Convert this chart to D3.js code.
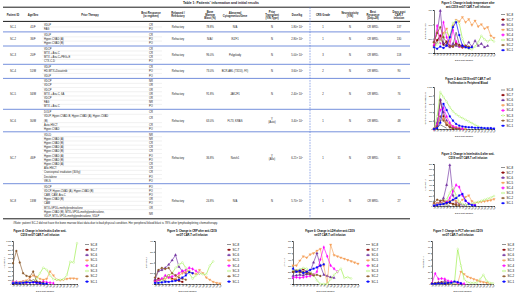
<!DOCTYPE html>
<html>
<head>
<meta charset="utf-8">
<script src="https://cdn.jsdelivr.net/npm/d3@7"></script>
<style>
  body { margin: 0; background: #fff; }
  svg { display: block; font-family: Arial, "Liberation Sans", sans-serif; }
</style>
</head>
<body>
<svg id="vis" width="520" height="295"></svg>
<script>
// ---------- table data ----------
var patients = ["SC-1","SC-2","SC-3","SC-4","SC-5","SC-6","SC-7","SC-8"];
var ageSex = ["41/F","36/F","20/F","51/M","34/M","30/M","46/F","13/M"];
var relapsed = ["Refractory","Refractory","Refractory","Refractory","Refractory","Refractory","Refractory","Refractory"];
var blast = ["78.8%","N/A#","96.0%","73.0%","91.8%","63.0%","36.8%","24.8%"];
var cyto = ["N/A","IKZF1","Polyploidy","BCR-ABL (T315I), F/I)","JAK2F1","FLT3, KRAS","Notch1","N/A"];
var transplant = ["N","N","N","N","N","Y\n(Auto)","Y\n(Allo)","N"];
var dose = ["1.80","2.80","5.00","3.60","2.40","3.40","6.21","5.70"];
var crs = ["1","1","3","2","2","1","1","1"];
var neuro = ["N","N","N","N","N","N","N","N"];
var best28 = ["CR MRD-","CR MRD-","CR MRD-","CR MRD-","CR MRD-","CR MRD-","CR MRD-","CR MRD-"];
var daysPost = ["137","130","118","90","76","48","31","27"];
var therapy = [
  [["VDLP","CR"],["FAG","PO"]],
  [["VDLP","CR"],["Hyper-CVAD (A)","PO"],["Hyper-CVAD (B)","PO"]],
  [["VDCP","CR"],["MTX + Ara-C","CR"],["MTX + Ara-C+PEG+E","CR"],["CTX-C-D","PO"]],
  [["VDLP","CR"],["HD-MTX+Dasatinib","PO"],["VDLP","PO"]],
  [["VDCP","NR"],["VDCP","OR"],["VDCP","OR"],["MTX + Ara-C, 6A","OR"],["VDCP","OR"],["FAG","NR"],["MTX + Ara-C","PO"]],
  [["DOLP","CR"],["VDLP, Hyper-CVAD-B, Hyper-CVAD (A), Hyper-CVAD\n(B)","CR"],["Auto-HSCT","CR"],["Hyper-CVAD","PO"]],
  [["VDLD","NR"],["Hyper-CVAD (A)","NR"],["Hyper-CVAD (B)","CR"],["Hyper-CVAD (A)","CR"],["Hyper-CVAD (B)","CR"],
   ["Hyper-CVAD (A)","PO"],["Hyper-CVAD (B)","PO"],["Hyper-CVAD (A)","CR"],["Allo-HSCT","CR"],
   ["Craniospinal irradiation (30Gy)","CR"],["Decitabine","PO"],["VELS","PO"]],
  [["VDCP","PO"],["VDCP, Hyper-CVAD (A), Hyper-CVAD (B)","PO"],["CAM, CAM,  Ara-C","PO"],["Hyper-CVAD (B)","OR"],
   ["CAM","PO"],["MTX+VP16+methylprednisolone","OR"],
   ["Hyper-CVAD (B), MTX+VP16+methylprednisolone,\nVDLP, MTX+VP16+methylprednisolone, VDLP","NR"]]
];
var headers = ["Patient ID","Age/Sex","Prior Therapy","Best Response\n(to regimen)","Relapsed /\nRefractory",
  "Bone\nMarrow\nBlast (%)","Abnormal\nCytogenetics/Gene","Prior\nTransplant\n(Y/N;Type)","Dose/kg","CRS Grade",
  "Neurotoxicity\n(Y/N)","Best\nResponse\n(Day+28)","Days post\nCAR-T\ninfusion"];

// ---------- chart data (series SC-1 .. SC-8) ----------
var days = ["D0","D1","D2","D3","D4","D5","D6","D7","D8","D9","D10","D11","D12","D13","D14","D15","D18","D21","D24","D28"];
var series = ["SC-1","SC-2","SC-3","SC-4","SC-5","SC-6","SC-7","SC-8"];
var colors = ["#0000ff","#8b5a2b","#99ee44","#ff00ff","#f5a05a","#7030a0","#8b0000","#555555"];

var tempData = [
  [36.8,36.6,36.9,36.7,37.0,38.2,39.6,40.3,38.5,37.0,36.8,36.7,36.8],
  [37.5,38.8,39.6,38.2,37.4,37.0,36.9,37.2,37.0,36.8,37.0,36.9],
  [36.8,37.2,37.6,38.5,39.0,38.2,40.2,40.5,40.1,38.0,36.8,36.6,36.5,36.9,37.5,38.4,37.9,37.6,37.9,37.6],
  [37.1,39.8,37.4,40.3,38.2,37.0,39.2,37.6,36.9,36.8,37.0],
  [37.4,39.0,37.8,38.8,39.4,37.6,39.8,40.6,40.4,41.0,40.3,40.7,39.9,40.5,39.7,40.0,39.4,39.6,38.4,38.1],
  [37.6,38.8,41.9,37.4,37.1,36.8,37.3,37.0,36.9,37.1,36.8,37.5,36.9,37.7,37.0,37.3,36.8,37.0],
  [37.0,37.8,38.4,37.2,37.6,37.0,36.9,37.4,37.1,36.8,37.0,36.8],
  [36.9,37.4,38.6,37.0,37.2,36.8,37.1,38.9,37.2,36.9]
];
var cartData = [
  [0,20,150,600,450,300,200,120,80,60,50,40,40,30,30,30,20,20,20,10],
  [0,60,300,200,100,50,20,10,5],
  [0,300,880,760,650,520,420,350,300,260,220,180,140,100,60,20,5],
  [0,100,450,500,300,150,60,30,10,5],
  [0,50,200,250,150,100,60,40,20,10,5],
  [0,150,700,400,200,100,50,20,10],
  [0,80,680,300,100,40,10],
  [0,30,100,60,20]
];
var il6aData = [
  [10,20,30,40,60,80,120,150,200,230,100,40,20,10],
  [60,120,100,110,50,80,30,20,10],
  [20,30,40,60,120,250,350,200,80,40,20,30,40,60,80,100,120,140,160,190],
  [20,30,40,60,80,150,280,400,360,200,100,50,30,20],
  [40,60,50,80,90,100,110,90,60,120,170,200,90,60,70,80,90,100,110,130],
  [30,50,80,150,400,780,200,80,40,30,20],
  [20,40,60,50,80,60,40,30],
  [10,20,30,20,20,10]
];
var il6bData = [
  [20,30,20,30,40,30,40,30,20,10,10],
  [480,770,500,250,190,170,290,60,40,30],
  [30,40,30,40,50,60,80,120,250,380,330,200,110,100,100,110,210,520,500,950],
  [40,50,30,40,30,50,40,30,20,60,40,30,20],
  [50,30,40,60,80,150,200,170,120,100,120,290,200,100,90,100,120,130,130,120],
  [30,20,30,50,40,60,80,40,30],
  [20,30,40,50,40,80,70,50,30],
  [10,20,30,20,10]
];
var crpData = [
  [10,10,15,20,20,25,30,40,60,80,110,100],
  [60,130,150,140,150,100,80,60,50,40],
  [10,20,30,60,80,100,150,180,200,150,100,50,80,100,90,90,170,210],
  [20,30,50,80,60,70,80,100,120,130,150,140,120,100],
  [20,30,40,50,60,40,50,80,100,110,120,100,90,130,100,60,40,20,10,5],
  [40,120,130,150,180,220,270,160,120,100],
  [30,50,40,60,80,50,40,30,20],
  [20,30,40,30,20]
];
var ldhData = [
  [250,200,220,180,200,230,250,270,300,320],
  [200,210,190,200,180,160,140,150,130],
  [230,220,240,260,250,200,150,60,0,0,0,80,150,200,250,100,110,90],
  [100,110,100,110,120,130,150,200,400,600,450,300,250,200],
  [300,300,380,450,430,480,500,540,570,300,0,640,470,450,430,410,390,370,350,330],
  [130,140,150,140,160,200,350,500,300,150,130,110,100],
  [200,220,210,240,200,180,150],
  [180,190,200,170,160,150]
];
var pctData = [
  [0.5,0.5,1,1,1,2,2,4,3,1],
  [1,1,2,2,1,1],
  [0.5,0.5,1,1,2,2,1,2,57,30,8,3,2,2,2,8,15,5,2,1],
  [1,17,8,9,8,5,4,3,2,1,0.5],
  [0.5,1,1,1.5,2,1.5,1,2,1,20,16,12,10,8,6,4,3,2,1],
  [0.5,1,2,1,5,2,1],
  [0.5,1,2,3,1],
  [0.3,0.5,1,0.5]
];

var svg = d3.select("#vis");

// ---------- table ----------
var tbl = svg.append("g").attr("font-size", "2.7px").attr("fill", "#222");
tbl.append("text").attr("x", 221).attr("y", 4.3).attr("text-anchor", "middle")
  .attr("font-size", "3.4px").attr("font-weight", "bold").text("Table 1: Patients' information and initial results");

var colX = [13, 33, 90, 151, 178, 210, 235, 272, 297, 323, 350, 373, 399];
var tx0 = 3, tx1 = 410, lh = 4.2, pad = 1.5, yTop = 22;

// multi-line centered text
function block(g, x, cy, str, anchor) {
  var lines = str.split("\n");
  lines.forEach(function(t, k) {
    g.append("text").attr("x", x).attr("y", cy + (k - (lines.length - 1) / 2) * 3 + 0.95)
      .attr("text-anchor", anchor || "middle").text(t);
  });
}

headers.forEach(function(h, i) {
  var hg = tbl.append("g").attr("font-weight", "bold");
  block(hg, colX[i], 14.8, h);
});
tbl.append("line").attr("x1", tx0).attr("x2", tx1).attr("y1", 7.2).attr("y2", 7.2).attr("stroke", "#000").attr("stroke-width", 0.9);
tbl.append("line").attr("x1", tx0).attr("x2", tx1).attr("y1", 21.4).attr("y2", 21.4).attr("stroke", "#000").attr("stroke-width", 0.9);

var rowY = yTop;
patients.forEach(function(p, i) {
  var items = therapy[i];
  var nLines = d3.sum(items, function(d) { return d[0].split("\n").length; });
  var h = nLines * lh + pad;
  var mid = rowY + h / 2;
  var cy = rowY + pad / 2;
  items.forEach(function(it, j) {
    var lines = it[0].split("\n");
    var ih = lines.length * lh;
    if (j > 0) {
      tbl.append("line").attr("x1", 42).attr("x2", 162).attr("y1", cy).attr("y2", cy)
        .attr("stroke", "#d0d0d0").attr("stroke-width", 0.3);
    }
    lines.forEach(function(t, k) {
      tbl.append("text").attr("x", 44).attr("y", cy + k * lh + lh / 2 + 0.95).text(t);
    });
    tbl.append("text").attr("x", colX[3]).attr("y", cy + ih / 2 + 0.95).attr("text-anchor", "middle").text(it[1]);
    cy += ih;
  });
  var cells = [p, ageSex[i], null, null, relapsed[i], blast[i], cyto[i], transplant[i], null, crs[i], neuro[i], best28[i], daysPost[i]];
  cells.forEach(function(c, k) { if (c !== null) block(tbl, colX[k], mid, c); });
  var dt = tbl.append("text").attr("x", colX[8]).attr("y", mid + 0.95).attr("text-anchor", "middle");
  dt.append("tspan").text(dose[i] + "× 10");
  dt.append("tspan").attr("dy", -0.9).attr("font-size", "1.8px").text("6");
  rowY += h;
  if (i < patients.length - 1) {
    tbl.append("line").attr("x1", tx0).attr("x2", tx1).attr("y1", rowY).attr("y2", rowY)
      .attr("stroke", "#7590dc").attr("stroke-width", 1.0);
  }
});
tbl.append("line").attr("x1", tx0).attr("x2", tx1).attr("y1", rowY).attr("y2", rowY).attr("stroke", "#000").attr("stroke-width", 0.9);
tbl.append("line").attr("x1", 310).attr("x2", 310).attr("y1", 7.2).attr("y2", rowY)
  .attr("stroke", "#4f72d8").attr("stroke-width", 0.6).attr("stroke-dasharray", "1.6,1.1");
tbl.append("text").attr("x", 13).attr("y", rowY + 5.3).attr("font-size", "2.85px")
  .text("#Note: patient SC-2 did not have the bone marrow blast data due to bad physical condition. Her peripheral blood blast is 78% after lymphodepleting chemotherapy.");

// ---------- charts ----------
var symbols = [d3.symbolSquare, d3.symbolCircle, d3.symbolCircle, d3.symbolDiamond, d3.symbolTriangle, d3.symbolTriangle, d3.symbolSquare, null];

function marker(g, s, x, y) {
  if (!symbols[s]) return;
  var rot = s === 4 ? " rotate(180)" : "";
  g.append("path").attr("d", d3.symbol().type(symbols[s]).size(2.6)())
    .attr("transform", "translate(" + x + "," + y + ")" + rot)
    .attr("fill", s === 2 ? "#fff" : colors[s]).attr("stroke", colors[s]).attr("stroke-width", 0.3);
}

function drawChart(c, data) {
  var g = svg.append("g");
  var x = d3.scalePoint().domain(days).range([c.x0, c.x1]);
  var y = d3.scaleLinear().domain(c.domain).range([c.y1, c.y0]);

  c.title.forEach(function(t, k) {
    g.append("text").attr("x", c.tx).attr("y", c.ty + k * 4).attr("text-anchor", "middle")
      .attr("font-size", "2.6px").attr("font-weight", "bold").text(t);
  });

  var ya = g.append("g").attr("transform", "translate(" + c.x0 + ",0)")
    .call(d3.axisLeft(y).tickValues(d3.range(c.domain[0], c.domain[1] + c.step / 2, c.step)).tickSize(1).tickPadding(0.6));
  ya.attr("font-size", "2.1px").attr("font-family", null);
  ya.selectAll("path, line").attr("stroke-width", 0.55);

  var xa = g.append("g").attr("transform", "translate(0," + c.y1 + ")")
    .call(d3.axisBottom(x).tickSize(1).tickPadding(0.5));
  xa.attr("font-size", "1.9px").attr("font-family", null);
  xa.selectAll("path, line").attr("stroke-width", 0.55);
  xa.selectAll("text").attr("text-anchor", "end").attr("dy", "0.3em")
    .attr("transform", "rotate(-60)").attr("y", 1.2).attr("x", -0.4);

  g.append("text").attr("transform", "translate(" + (c.x0 - 8.5) + "," + ((c.y0 + c.y1) / 2) + ") rotate(-90)")
    .attr("text-anchor", "middle").attr("font-size", "2.1px").text(c.ylabel);
  g.append("text").attr("x", (c.x0 + c.x1) / 2).attr("y", c.y1 + 8.3).attr("text-anchor", "middle")
    .attr("font-size", "2.2px").text("Days post infusion");

  var line = d3.line().x(function(d) { return x(d.day); }).y(function(d) { return y(d.v); });
  [7, 6, 5, 4, 3, 2, 1, 0].forEach(function(s) {
    var pts = data[s].map(function(v, k) { return { day: days[k], v: v }; });
    g.append("path").datum(pts).attr("fill", "none").attr("stroke", colors[s])
      .attr("stroke-width", 0.65).attr("d", line);
    pts.forEach(function(d) { marker(g, s, x(d.day), y(d.v)); });
  });

  // legend SC-8 on top
  [7, 6, 5, 4, 3, 2, 1, 0].forEach(function(s, i) {
    var ly = c.ly + i * c.ls;
    g.append("line").attr("x1", c.lx).attr("x2", c.lx + 4).attr("y1", ly).attr("y2", ly)
      .attr("stroke", colors[s]).attr("stroke-width", 0.65);
    marker(g, s, c.lx + 2, ly);
    g.append("text").attr("x", c.lx + 5.5).attr("y", ly + 1).attr("font-size", "2.9px").text(series[s]);
  });
}

drawChart({ x0: 434, x1: 494, y0: 10, y1: 53, domain: [36, 42], step: 2, tx: 468, ty: 3.8,
  title: ["Figure 1: Change in body temperature after", "anti-CD19 nnGT CAR-T cell infusion"],
  ylabel: "Temperature (°C)", lx: 501, ly: 14.5, ls: 5.1 }, tempData);
drawChart({ x0: 434, x1: 494, y0: 87, y1: 129, domain: [0, 1000], step: 200, tx: 468, ty: 79.5,
  title: ["Figure 2: Anti-CD19 nnGT CAR-T cell", "Proliferation in Peripheral Blood"],
  ylabel: "CAR-T cell in peripheral blood (/μL)", lx: 501, ly: 90, ls: 5.1 }, cartData);
drawChart({ x0: 434, x1: 494, y0: 164, y1: 206, domain: [0, 800], step: 100, tx: 468, ty: 154.5,
  title: ["Figure 3: Change in Interleukin-6 after anti-", "CD19 nnGT CAR-T cell infusion"],
  ylabel: "IL-6 (pg/mL)", lx: 501, ly: 167.5, ls: 5.1 }, il6aData);
drawChart({ x0: 13, x1: 77, y0: 241, y1: 284, domain: [0, 1000], step: 100, tx: 40, ty: 232,
  title: ["Figure 4: Change in Interleukin-6 after anti-", "CD19 nnGT CAR-T cell infusion"],
  ylabel: "IL-6 (pg/mL)", lx: 85, ly: 244.5, ls: 5.3 }, il6bData);
drawChart({ x0: 155, x1: 220, y0: 241, y1: 284, domain: [0, 400], step: 100, tx: 192, ty: 232,
  title: ["Figure 5: Change in CRP after anti-CD19", "nnGT CAR-T cell infusion"],
  ylabel: "CRP (mg/L)", lx: 227, ly: 244.5, ls: 5.3 }, crpData);
drawChart({ x0: 293, x1: 358, y0: 241, y1: 284, domain: [0, 700], step: 100, tx: 330, ty: 232,
  title: ["Figure 6: Change in LDH after anti-CD19", "nnGT CAR-T cell infusion"],
  ylabel: "LDH (U/L)", lx: 366, ly: 244.5, ls: 5.3 }, ldhData);
drawChart({ x0: 432, x1: 493, y0: 241, y1: 284, domain: [0, 70], step: 10, tx: 458, ty: 232,
  title: ["Figure 7: Change in PCT after anti-CD19", "nnGT CAR-T cell infusion"],
  ylabel: "PCT (ng/mL)", lx: 502, ly: 244.5, ls: 5.3 }, pctData);
</script>
</body>
</html>
